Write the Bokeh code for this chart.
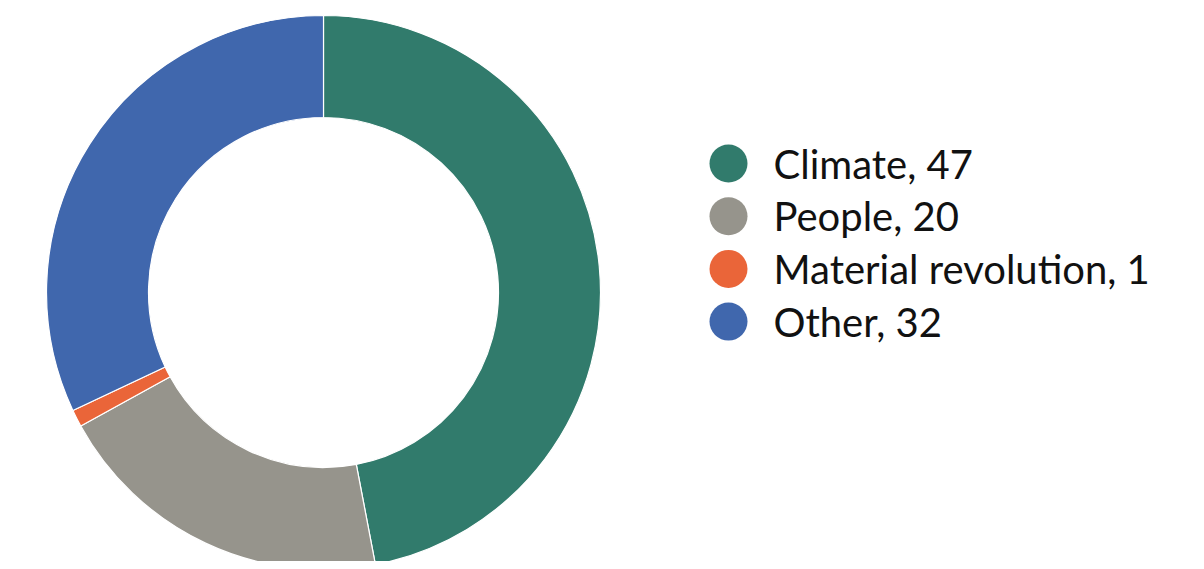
import numpy as np
from bokeh.plotting import figure
from bokeh.models import Range1d, ColumnDataSource
from bokeh.core.properties import value
from bokeh.embed import file_html
from bokeh.resources import INLINE

categories = ["Climate", "People", "Material revolution", "Other"]
values = [47, 20, 1, 32]
colors = ["#317b6c", "#96948c", "#ea6539", "#4067ad"]

W, H = 1188, 561
p = figure(width=W, height=H, output_backend="svg", toolbar_location=None,
           x_range=Range1d(0, W), y_range=Range1d(569 - H, 569),
           min_border=0, outline_line_color=None)
p.axis.visible = False
p.grid.visible = False
p.background_fill_color = "white"
p.border_fill_color = "white"

total = sum(values)
frac = np.array(values) / total
cum = np.concatenate([[0], np.cumsum(frac)])
start = np.pi / 2 - 2 * np.pi * cum[:-1]
end = np.pi / 2 - 2 * np.pi * cum[1:]

cx, cy = 323, 569 - 292
src = ColumnDataSource(dict(start=start, end=end, color=colors))
p.annular_wedge(x=cx, y=cy, inner_radius=175, outer_radius=277,
                start_angle="start", end_angle="end", direction="clock",
                fill_color="color", line_color="white", line_width=1.2, source=src)

labels = [f"{c}, {v}" for c, v in zip(categories, values)]
ly = [569 - (163 + i * 52.7) for i in range(len(categories))]
lsrc = ColumnDataSource(dict(x=[728] * 4, tx=[773] * 4, y=ly, label=labels, color=colors))
p.scatter(x="x", y="y", size=38, marker="circle", fill_color="color", line_color=None, source=lsrc)
p.text(x="tx", y="y", text="label", text_font=value("Lato"), text_font_size="40px",
       text_baseline="middle", text_align="left", text_color="#111111", source=lsrc)

open("out.html", "w").write(file_html(p, INLINE))
